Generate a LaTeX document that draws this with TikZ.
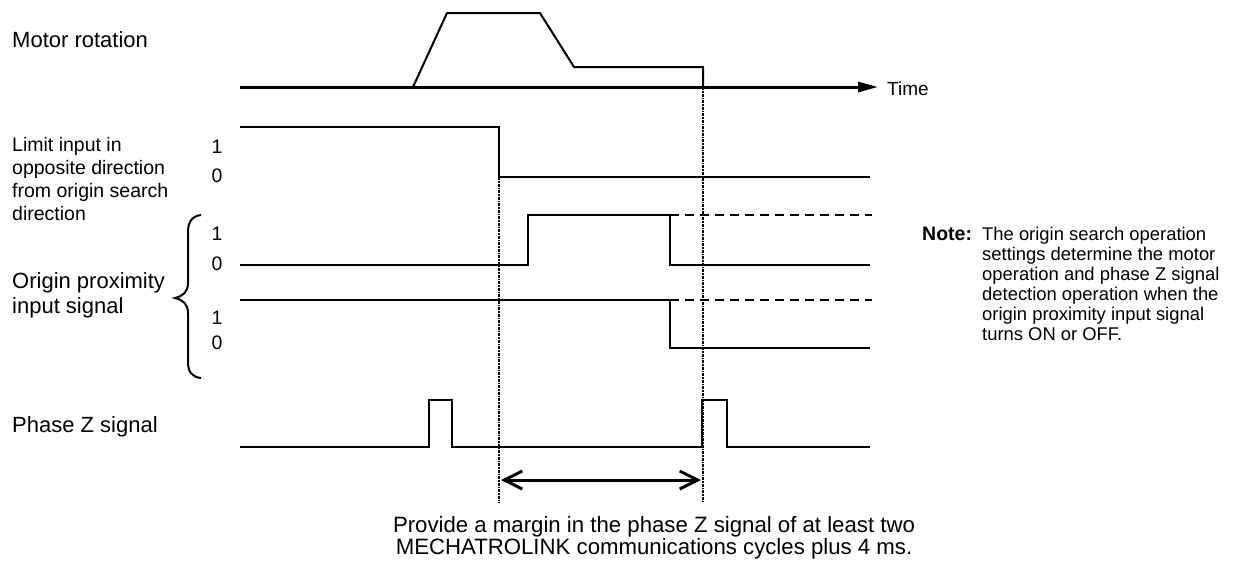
\documentclass[tikz,border=0pt]{standalone}
\usepackage{fontspec}
\setmainfont{Liberation Sans}
\usetikzlibrary{arrows.meta}
\begin{document}
\begin{tikzpicture}[x=1pt,y=-1pt,
  sig/.style={line width=2pt, line join=miter},
  axisline/.style={line width=3pt},
  guide/.style={line width=2.6pt, dash pattern=on 3pt off 1pt on 1.5pt off 1pt},
  alt/.style={line width=2.6pt, dash pattern=on 9pt off 6pt},
  lbl/.style={inner sep=0pt, anchor=base west, font=\fontsize{22}{25}\selectfont},
  small/.style={inner sep=0pt, anchor=base west, font=\fontsize{19.5}{23.3}\selectfont},
  lvl/.style={inner sep=0pt, anchor=center, font=\fontsize{19.5}{23.3}\selectfont},
]
\useasboundingbox (0,0) rectangle (1238,562);

% labels
\node[lbl] (lmotor) at (12,47) {Motor rotation};
\node[small] (llimit) at (12,151) {\begin{tabular}[t]{@{}l@{}}Limit input in\\opposite direction\\from origin search\\direction\end{tabular}};
\node[lbl] (lprox) at (12,288) {\begin{tabular}[t]{@{}l@{}}Origin proximity\\input signal\end{tabular}};
\node[lbl] (lz) at (12,432) {Phase Z signal};

% level labels
\node[lvl] (l1a) at (217,147) {1};
\node[lvl] (l0a) at (217,176) {0};
\node[lvl] (l1b) at (217,234) {1};
\node[lvl] (l0b) at (217,264) {0};
\node[lvl] (l1c) at (217,318) {1};
\node[lvl] (l0c) at (217,343) {0};

% brace
\draw[line width=2pt] (201,215) .. controls (192,216) and (188,222) .. (188,232) -- (188,283)
  .. controls (188,292) and (183,296) .. (175,298)
  .. controls (183,300) and (188,304) .. (188,313) -- (188,362)
  .. controls (188,372) and (192,377) .. (201,378);

% time axis
\coordinate (ax0) at (240,87);
\coordinate (ax1) at (878,87);
\draw[axisline, -{Triangle[length=20pt,width=10pt]}] (ax0) -- (ax1);
\node[inner sep=0pt, anchor=base west, font=\fontsize{19}{22}\selectfont] (ltime) at (887,95) {Time};

% motor rotation
\draw[sig] (413,87) -- (447,13) -- (540,13) -- (574,67) -- (703,67) -- (703,87);

% guide lines
\draw[guide] (499,177) -- (499,503);
\draw[guide] (703,87) -- (703,503);

% limit input
\draw[sig] (240,127) -- (499,127) -- (499,177) -- (870,177);

% origin proximity 1
\draw[sig] (240,265) -- (528,265) -- (528,215) -- (670,215) -- (670,265) -- (870,265);
\draw[alt] (670,215) -- (872,215);

% origin proximity 2
\draw[sig] (240,300) -- (670,300) -- (670,348) -- (870,348);
\draw[alt] (670,300) -- (872,300);

% phase Z
\draw[sig] (240,447) -- (429,447) -- (429,400) -- (452,400) -- (452,447) -- (702,447)
  -- (702,400) -- (727,400) -- (727,447) -- (870,447);

% margin arrow
\coordinate (mA) at (501,480);
\coordinate (mB) at (701,480);
\draw[line width=3pt, {Straight Barb[length=18pt,width=18pt]}-{Straight Barb[length=18pt,width=18pt]}] (mA) -- (mB);

% caption
\node[inner sep=0pt, anchor=base, font=\fontsize{22.2}{21.5}\selectfont] (cap) at (654,532)
  {\begin{tabular}[t]{@{}c@{}}Provide a margin in the phase Z signal of at least two\\MECHATROLINK communications cycles plus 4 ms.\end{tabular}};

% note
\node[inner sep=0pt, anchor=base west, font=\fontsize{19.5}{20}\selectfont\bfseries] (nlab) at (922,240) {Note:};
\node[inner sep=0pt, anchor=base west, font=\fontsize{18.4}{20}\selectfont] (ntext) at (982,240)
  {\begin{tabular}[t]{@{}l@{}}The origin search operation\\settings determine the motor\\operation and phase Z signal\\detection operation when the\\origin proximity input signal\\turns ON or OFF.\end{tabular}};
\end{tikzpicture}
\end{document}
